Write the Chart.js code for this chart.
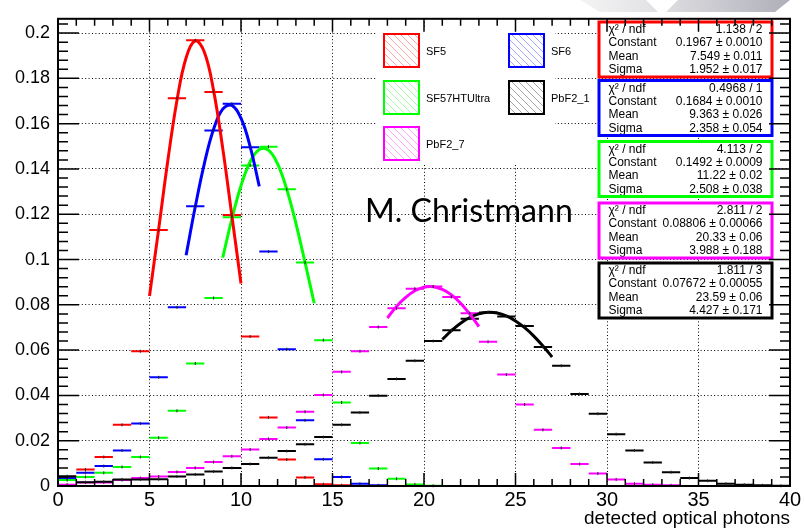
<!DOCTYPE html>
<html>
<head>
<meta charset="utf-8">
<script src="https://cdn.jsdelivr.net/npm/chart.js@4.4.1/dist/chart.umd.min.js"></script>
<style>
  html, body { margin: 0; padding: 0; background: #fff; }
  #wrap { width: 804px; height: 528px; }
</style>
</head>
<body>
<div id="wrap"><canvas id="chart" width="804" height="528"></canvas></div>
<script>
// bin centres (bin width 1, 0..40)
const binCenters = [0.5, 1.5, 2.5, 3.5, 4.5, 5.5, 6.5, 7.5, 8.5, 9.5,
  10.5, 11.5, 12.5, 13.5, 14.5, 15.5, 16.5, 17.5, 18.5, 19.5,
  20.5, 21.5, 22.5, 23.5, 24.5, 25.5, 26.5, 27.5, 28.5, 29.5,
  30.5, 31.5, 32.5, 33.5, 34.5, 35.5, 36.5, 37.5, 38.5, 39.5];

const sf5 = [0.0040, 0.0073, 0.0128, 0.0270, 0.0595, 0.1130, 0.1712, 0.1968, 0.1740, 0.1197,
  0.0660, 0.0303, 0.0117, 0.0038, 0.0008, 0.0003];
const sf6 = [0.0034, 0.0058, 0.0088, 0.0157, 0.0276, 0.0480, 0.0789, 0.1235, 0.1570, 0.1688,
  0.1496, 0.1035, 0.0604, 0.0290, 0.0118, 0.0040, 0.0010, 0.0003];
const sf57 = [0.0026, 0.0040, 0.0058, 0.0084, 0.0128, 0.0213, 0.0332, 0.0541, 0.0830, 0.1187,
  0.1415, 0.1498, 0.1310, 0.0987, 0.0644, 0.0369, 0.0190, 0.0077, 0.0032, 0.0007,
  0.0001];
const pbf2_1 = [0.0043, 0.0017, 0.0019, 0.0029, 0.0029, 0.0030, 0.0042, 0.0051, 0.0064, 0.0080,
  0.0097, 0.0125, 0.0154, 0.0184, 0.0216, 0.0270, 0.0324, 0.0399, 0.0473, 0.0553,
  0.0640, 0.0688, 0.0739, 0.0766, 0.0749, 0.0707, 0.0614, 0.0531, 0.0406, 0.0319,
  0.0229, 0.0157, 0.0104, 0.0061, 0.0035, 0.0023, 0.0010, 0.0006, 0.0003, 0.0001];
const pbf2_7 = [0.0006, 0.0015, 0.0016, 0.0026, 0.0035, 0.0042, 0.0062, 0.0080, 0.0106, 0.0131,
  0.0161, 0.0208, 0.0258, 0.0328, 0.0402, 0.0504, 0.0595, 0.0702, 0.0785, 0.0871,
  0.0881, 0.0835, 0.0763, 0.0637, 0.0492, 0.0360, 0.0248, 0.0168, 0.0097, 0.0055,
  0.0029, 0.0010, 0.0006, 0.0003];

// gaussian fit curves
const fitX_sf5 = [5, 5.5, 6, 6.5, 7, 7.5, 8, 8.5, 9, 9.5, 10];
const fitY_sf5 = [0.0839, 0.1134, 0.1436, 0.1702, 0.1891, 0.1966, 0.1915, 0.1747, 0.1492, 0.1194, 0.0894];
const fitX_sf6 = [7, 7.5, 8, 8.5, 9, 9.5, 10, 10.5, 11];
const fitY_sf6 = [0.1019, 0.1233, 0.1425, 0.1575, 0.1664, 0.1681, 0.1624, 0.1499, 0.1323];
const fitX_sf57 = [9, 9.5, 10, 10.5, 11, 11.5, 12, 12.5, 13, 13.5, 14];
const fitY_sf57 = [0.1008, 0.1179, 0.1326, 0.1432, 0.1486, 0.1483, 0.1422, 0.1310, 0.1160, 0.0987, 0.0807];
const fitX_pbf2_7 = [18, 18.5, 19, 19.5, 20, 20.5, 21, 21.5, 22, 22.5, 23];
const fitY_pbf2_7 = [0.0742, 0.0793, 0.0833, 0.0862, 0.0878, 0.0880, 0.0868, 0.0844, 0.0807, 0.0759, 0.0704];
const fitX_pbf2_1 = [21, 21.5, 22, 22.5, 23, 23.5, 24, 24.5, 25, 25.5, 26, 26.5, 27];
const fitY_pbf2_1 = [0.0647, 0.0686, 0.0719, 0.0744, 0.0760, 0.0767, 0.0764, 0.0751, 0.0729, 0.0699, 0.0662, 0.0618, 0.0570];

const statLabels = ['\u03c7\u00b2 / ndf', 'Constant', 'Mean', 'Sigma'];
const stats_sf5 = ['1.138 / 2', '0.1967 \u00b1 0.0010', '7.549 \u00b1 0.011', '1.952 \u00b1 0.017'];
const stats_sf6 = ['0.4968 / 1', '0.1684 \u00b1 0.0010', '9.363 \u00b1 0.026', '2.358 \u00b1 0.054'];
const stats_sf57 = ['4.113 / 2', '0.1492 \u00b1 0.0009', '11.22 \u00b1 0.02', '2.508 \u00b1 0.038'];
const stats_pbf2_7 = ['2.811 / 2', '0.08806 \u00b1 0.00066', '20.33 \u00b1 0.06', '3.988 \u00b1 0.188'];
const stats_pbf2_1 = ['1.811 / 3', '0.07672 \u00b1 0.00055', '23.59 \u00b1 0.06', '4.427 \u00b1 0.171'];

const xTitle = 'detected optical photons';
const watermark = 'M. Christmann';

const FONT = '"Liberation Sans", Arial, sans-serif';

function pts(vals) {
  return vals.map((v, i) => ({ x: binCenters[i], y: v }));
}
function curve(xs, ys) {
  return xs.map((x, i) => ({ x, y: ys[i] }));
}

// horizontal bar = one bin wide
const halfBin = (c) => {
  const s = c.chart.scales.x;
  return s ? (s.getPixelForValue(1) - s.getPixelForValue(0)) / 2 : 9;
};

function markerSet(label, vals, color) {
  return {
    type: 'scatter', label, data: pts(vals), order: 2,
    pointStyle: 'line', pointRadius: halfBin, pointHoverRadius: halfBin,
    borderColor: color, backgroundColor: color, pointBorderWidth: 2
  };
}
function fitSet(xs, ys, color) {
  return {
    type: 'line', data: curve(xs, ys), order: 1, showLine: true,
    borderColor: color, borderWidth: 3, pointRadius: 0, tension: 0.4, fill: false,
    isFit: true
  };
}

const series = [
  { name: 'SF5', color: '#ff0000', stats: stats_sf5 },
  { name: 'SF6', color: '#0000ff', stats: stats_sf6 },
  { name: 'SF57HTUltra', color: '#00ff00', stats: stats_sf57 },
  { name: 'PbF2_7', color: '#ff00ff', stats: stats_pbf2_7 },
  { name: 'PbF2_1', color: '#000000', stats: stats_pbf2_1 }
];

function hatchBox(ctx, x, y, w, h, color) {
  ctx.save();
  ctx.beginPath(); ctx.rect(x, y, w, h); ctx.clip();
  ctx.strokeStyle = color; ctx.globalAlpha = 0.35; ctx.lineWidth = 1;
  for (let d = -h; d < w + h; d += 7) {
    ctx.beginPath(); ctx.moveTo(x + d, y); ctx.lineTo(x + d + h, y + h); ctx.stroke();
  }
  ctx.restore();
  ctx.save();
  ctx.strokeStyle = color; ctx.lineWidth = 2; ctx.strokeRect(x, y, w, h);
  ctx.restore();
}

const decor = {
  id: 'decor',
  beforeDraw(chart) {
    const ctx = chart.ctx;
    ctx.save();
    ctx.fillStyle = '#fff';
    ctx.fillRect(0, 0, chart.width, chart.height);
    // grey slide decoration peeking at top right
    const g = ctx.createLinearGradient(570, 0, 800, 0);
    g.addColorStop(0, 'rgba(235,235,237,0.5)');
    g.addColorStop(0.4, 'rgba(215,215,218,0.8)');
    g.addColorStop(1, 'rgba(150,150,165,0.8)');
    ctx.fillStyle = g;
    ctx.beginPath();
    ctx.moveTo(580, 0); ctx.lineTo(646, 0); ctx.lineTo(658, 12); ctx.lineTo(600, 12); ctx.closePath();
    ctx.fill();
    ctx.beginPath();
    ctx.moveTo(678, 0); ctx.lineTo(790, 0); ctx.lineTo(775, 12); ctx.lineTo(666, 12); ctx.closePath();
    ctx.fill();
    ctx.restore();
  },
  beforeDatasetsDraw(chart) {
    const ctx = chart.ctx;
    ctx.save();
    // legend
    ctx.fillStyle = '#fff';
    ctx.fillRect(377, 28, 178, 137);
    const legendOrder = [0, 1, 2, 4, 3];
    const cells = [[384, 34], [509, 34], [384, 81], [509, 81], [384, 127]];
    ctx.font = '11px ' + FONT;
    ctx.textBaseline = 'middle';
    ctx.textAlign = 'left';
    legendOrder.forEach((si, k) => {
      const [lx, ly] = cells[k];
      hatchBox(ctx, lx, ly, 35, 33, series[si].color);
      ctx.fillStyle = '#000';
      ctx.fillText(series[si].name, lx + 42, ly + 17.5);
    });
    // stat boxes
    const tops = [22, 80.5, 141.5, 203, 263];
    series.forEach((s, i) => {
      const bx = 599, by = tops[i], bw = 173, bh = 55;
      ctx.fillStyle = '#fff';
      ctx.fillRect(bx, by, bw, bh);
      ctx.fillStyle = '#000';
      ctx.font = '12px ' + FONT;
      ctx.textBaseline = 'alphabetic';
      statLabels.forEach((lab, r) => {
        const yy = by + 11 + r * 13.4;
        ctx.textAlign = 'left';
        ctx.fillText(lab, bx + 9.5, yy);
        ctx.textAlign = 'right';
        ctx.fillText(s.stats[r], bx + bw - 9.5, yy);
      });
      ctx.strokeStyle = s.color;
      ctx.lineWidth = 3;
      ctx.strokeRect(bx, by, bw, bh);
    });
    // author label, stretched to the width it has in the slide
    ctx.fillStyle = '#000';
    ctx.textAlign = 'left';
    ctx.textBaseline = 'alphabetic';
    ctx.font = '30px Lato, "DejaVu Sans", sans-serif';
    const w = ctx.measureText(watermark).width;
    const size = 30 * 208 / w;
    ctx.font = size.toFixed(1) + 'px Lato, "DejaVu Sans", sans-serif';
    ctx.fillText(watermark, 365, 222);
    ctx.restore();
  },
  afterDatasetsDraw(chart) {
    const ctx = chart.ctx;
    ctx.save();
    ctx.strokeStyle = '#222';
    ctx.lineWidth = 1;
    chart.data.datasets.forEach((ds, i) => {
      if (ds.isFit) return;
      chart.getDatasetMeta(i).data.forEach(p => {
        ctx.beginPath(); ctx.moveTo(p.x, p.y - 1.5); ctx.lineTo(p.x, p.y + 1.5); ctx.stroke();
      });
    });
    ctx.restore();
  },
  afterDraw(chart) {
    const { ctx, chartArea: a, scales: { x, y } } = chart;
    ctx.save();
    ctx.strokeStyle = '#000';
    ctx.lineWidth = 1.5;
    ctx.beginPath();
    for (let v = 0; v <= 40; v++) {
      const px = x.getPixelForValue(v);
      const len = v % 5 === 0 ? 13 : 7;
      ctx.moveTo(px, a.bottom); ctx.lineTo(px, a.bottom - len);
      ctx.moveTo(px, a.top); ctx.lineTo(px, a.top + len);
    }
    for (let k = 0; k * 0.004 <= y.max; k++) {
      const py = y.getPixelForValue(k * 0.004);
      const len = k % 5 === 0 ? 21 : 10;
      ctx.moveTo(a.left, py); ctx.lineTo(a.left + len, py);
      ctx.moveTo(a.right, py); ctx.lineTo(a.right - len, py);
    }
    ctx.stroke();
    ctx.lineWidth = 2;
    ctx.strokeRect(a.left, a.top, a.right - a.left, a.bottom - a.top);
    ctx.restore();
  }
};

new Chart(document.getElementById('chart'), {
  type: 'scatter',
  data: {
    datasets: [
      fitSet(fitX_sf5, fitY_sf5, '#ff0000'),
      fitSet(fitX_sf6, fitY_sf6, '#0000ff'),
      fitSet(fitX_sf57, fitY_sf57, '#00ff00'),
      fitSet(fitX_pbf2_7, fitY_pbf2_7, '#ff00ff'),
      fitSet(fitX_pbf2_1, fitY_pbf2_1, '#000000'),
      markerSet('PbF2_1', pbf2_1, '#000000'),
      markerSet('PbF2_7', pbf2_7, '#ff00ff'),
      markerSet('SF57HTUltra', sf57, '#00ff00'),
      markerSet('SF6', sf6, '#0000ff'),
      markerSet('SF5', sf5, '#ff0000')
    ]
  },
  options: {
    responsive: false,
    animation: false,
    events: [],
    layout: { padding: { left: 0, right: 14, top: 12, bottom: 0 } },
    plugins: { legend: { display: false }, tooltip: { enabled: false } },
    scales: {
      x: {
        type: 'linear', min: 0, max: 40,
        afterFit: (s) => { s.height = 42; },
        ticks: { stepSize: 5, padding: 2, color: '#000', font: { family: FONT, size: 20 } },
        grid: { color: '#000', lineWidth: 1, drawTicks: false },
        border: { display: false, dash: [1, 2.4] },
        title: { display: true, text: xTitle, align: 'end', color: '#000', padding: { top: 0, bottom: -2 },
                 font: { family: FONT, size: 19 } }
      },
      y: {
        type: 'linear', min: 0, max: 0.2063,
        afterFit: (s) => { s.width = 58; },
        ticks: { stepSize: 0.02, includeBounds: false, padding: 8, color: '#000',
                 font: { family: FONT, size: 18 },
                 callback: (v) => String(Math.round(v * 100) / 100) },
        grid: { color: '#000', lineWidth: 1, drawTicks: false },
        border: { display: false, dash: [1, 2.4] }
      }
    }
  },
  plugins: [decor]
});
</script>
</body>
</html>
